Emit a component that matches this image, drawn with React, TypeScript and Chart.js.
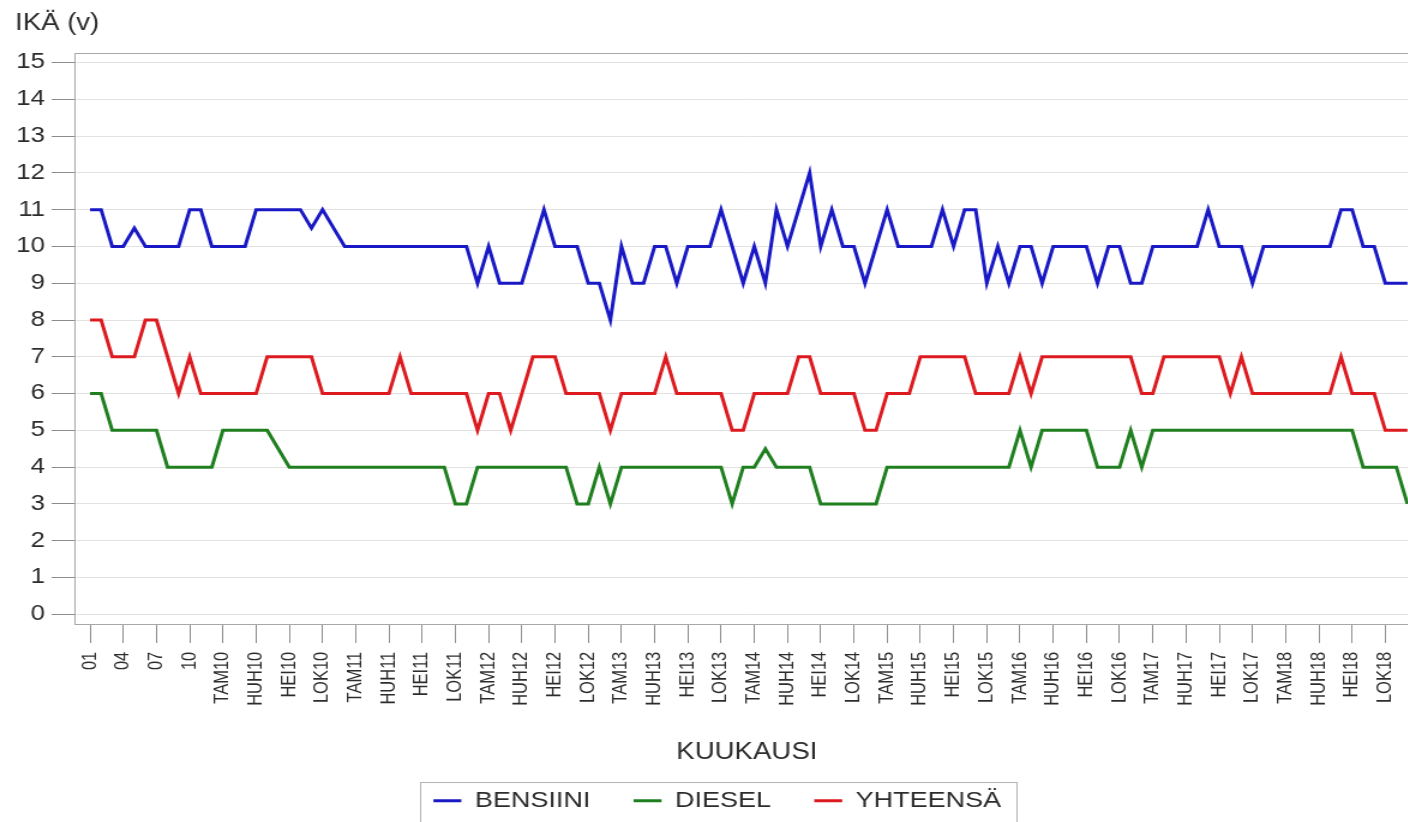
import React, { useEffect, useRef } from "react";
import { Chart, registerables } from "chart.js";

Chart.register(...registerables);

// X tick labels (every third month)
const tickLabels = [
  "01", "04", "07", "10",
  "TAM10", "HUH10", "HEI10", "LOK10",
  "TAM11", "HUH11", "HEI11", "LOK11",
  "TAM12", "HUH12", "HEI12", "LOK12",
  "TAM13", "HUH13", "HEI13", "LOK13",
  "TAM14", "HUH14", "HEI14", "LOK14",
  "TAM15", "HUH15", "HEI15", "LOK15",
  "TAM16", "HUH16", "HEI16", "LOK16",
  "TAM17", "HUH17", "HEI17", "LOK17",
  "TAM18", "HUH18", "HEI18", "LOK18",
];

const yTicks = [0, 1, 2, 3, 4, 5, 6, 7, 8, 9, 10, 11, 12, 13, 14, 15];

const seriesNames = ["BENSIINI", "DIESEL", "YHTEENSÄ"];

// Monthly values (one per month)
const bensiini = [
  11, 11, 10, 10, 10.5, 10, 10, 10, 10, 11,
  11, 10, 10, 10, 10, 11, 11, 11, 11, 11,
  10.5, 11, 10.5, 10, 10, 10, 10, 10, 10, 10,
  10, 10, 10, 10, 10, 9, 10, 9, 9, 9,
  10, 11, 10, 10, 10, 9, 9, 8, 10, 9,
  9, 10, 10, 9, 10, 10, 10, 11, 10, 9,
  10, 9, 11, 10, 11, 12, 10, 11, 10, 10,
  9, 10, 11, 10, 10, 10, 10, 11, 10, 11,
  11, 9, 10, 9, 10, 10, 9, 10, 10, 10,
  10, 9, 10, 10, 9, 9, 10, 10, 10, 10,
  10, 11, 10, 10, 10, 9, 10, 10, 10, 10,
  10, 10, 10, 11, 11, 10, 10, 9, 9, 9,
];

const diesel = [
  6, 6, 5, 5, 5, 5, 5, 4, 4, 4,
  4, 4, 5, 5, 5, 5, 5, 4.5, 4, 4,
  4, 4, 4, 4, 4, 4, 4, 4, 4, 4,
  4, 4, 4, 3, 3, 4, 4, 4, 4, 4,
  4, 4, 4, 4, 3, 3, 4, 3, 4, 4,
  4, 4, 4, 4, 4, 4, 4, 4, 3, 4,
  4, 4.5, 4, 4, 4, 4, 3, 3, 3, 3,
  3, 3, 4, 4, 4, 4, 4, 4, 4, 4,
  4, 4, 4, 4, 5, 4, 5, 5, 5, 5,
  5, 4, 4, 4, 5, 4, 5, 5, 5, 5,
  5, 5, 5, 5, 5, 5, 5, 5, 5, 5,
  5, 5, 5, 5, 5, 4, 4, 4, 4, 3,
];

const yhteensa = [
  8, 8, 7, 7, 7, 8, 8, 7, 6, 7,
  6, 6, 6, 6, 6, 6, 7, 7, 7, 7,
  7, 6, 6, 6, 6, 6, 6, 6, 7, 6,
  6, 6, 6, 6, 6, 5, 6, 6, 5, 6,
  7, 7, 7, 6, 6, 6, 6, 5, 6, 6,
  6, 6, 7, 6, 6, 6, 6, 6, 5, 5,
  6, 6, 6, 6, 7, 7, 6, 6, 6, 6,
  5, 5, 6, 6, 6, 7, 7, 7, 7, 7,
  6, 6, 6, 6, 7, 6, 7, 7, 7, 7,
  7, 7, 7, 7, 7, 6, 6, 7, 7, 7,
  7, 7, 7, 6, 7, 6, 6, 6, 6, 6,
  6, 6, 6, 7, 6, 6, 6, 5, 5, 5,
];

const colors = ["#1818c4", "#1f7f1f", "#dc1a1f"];

const FONT = "'Liberation Sans', Arial, Helvetica, sans-serif";
const TEXT = "#2c2c2c";
const SX = 1.2;
const CW = 1207;
const CH = 822;

export default function App() {
  const canvasRef = useRef<HTMLCanvasElement | null>(null);

  useEffect(() => {
    const el = canvasRef.current;
    if (!el) return;

    const framePlugin = {
      id: "frameAndLegendBox",
      beforeDatasetsDraw(chart: any) {
        const { ctx, chartArea: a } = chart;
        ctx.save();
        ctx.strokeStyle = "#a8a8a8";
        ctx.lineWidth = 1;
        ctx.strokeRect(Math.round(a.left) + 0.5, Math.round(a.top) + 0.5, Math.round(a.right - a.left), Math.round(a.bottom - a.top));
        ctx.restore();
      },
      afterDraw(chart: any) {
        const lg = chart.legend;
        const hb = lg && lg.legendHitBoxes;
        if (!hb || !hb.length) return;
        const { ctx } = chart;
        const first = hb[0];
        const last = hb[hb.length - 1];
        const l = first.left - 11;
        const r = last.left + last.width + 13;
        const t = first.top - 7.5;
        const b = first.top + first.height + 9.5;
        ctx.save();
        ctx.strokeStyle = "#b4b4b4";
        ctx.lineWidth = 1;
        ctx.strokeRect(Math.round(l) + 0.5, Math.round(t) + 0.5, Math.round(r - l), Math.round(b - t));
        ctx.restore();
      },
    };

    const series = [bensiini, diesel, yhteensa];

    const chart = new Chart(el, {
      type: "line",
      data: {
        datasets: series.map((vals, k) => ({
          label: seriesNames[k],
          data: vals.map((y, i) => ({ x: i, y })),
          borderColor: colors[k],
          backgroundColor: colors[k],
          borderWidth: 3,
          pointRadius: 0,
          pointHoverRadius: 0,
          tension: 0,
          fill: false,
        })),
      },
      options: {
        responsive: true,
        maintainAspectRatio: false,
        animation: false,
        events: [],
        layout: { padding: { left: 12.5, right: 24, top: 0, bottom: 0 } },
        plugins: {
          title: {
            display: true,
            text: "IKÄ (v)",
            position: "top",
            align: "start",
            color: TEXT,
            font: { family: FONT, size: 23, weight: "normal" },
            padding: { top: 9.5, bottom: 15.9 },
          },
          legend: {
            display: true,
            position: "bottom",
            labels: {
              color: TEXT,
              font: { family: FONT, size: 22.5 },
              boxWidth: 23.3,
              boxHeight: 3,
              padding: 36,
              generateLabels: (c: any) =>
                (Chart.defaults as any).plugins.legend.labels
                  .generateLabels(c)
                  .map((it: any) => ({ ...it, lineWidth: 0 })),
            },
          },
          tooltip: { enabled: false },
        },
        scales: {
          x: {
            type: "linear",
            min: -1.445,
            max: 120.1,
            afterBuildTicks: (s: any) => {
              s.ticks = tickLabels.map((_, k) => ({ value: k * 3 }));
            },
            afterFit: (s: any) => {
              s.height = 129.5;
            },
            ticks: {
              autoSkip: false,
              minRotation: 90,
              maxRotation: 90,
              padding: 8.7,
              color: TEXT,
              font: { family: FONT, size: 16.5 },
              callback: (v: any) => tickLabels[Math.round(Number(v) / 3)] ?? "",
            },
            grid: {
              drawOnChartArea: false,
              drawTicks: true,
              tickLength: 19,
              tickColor: "#8c8c8c",
              color: "#8c8c8c",
            },
            border: { display: false },
            title: {
              display: true,
              text: "KUUKAUSI",
              color: TEXT,
              font: { family: FONT, size: 23 },
              padding: { top: 0, bottom: -13 },
            },
          },
          y: {
            type: "linear",
            min: -0.265,
            max: 15.26,
            afterBuildTicks: (s: any) => {
              s.ticks = yTicks.map((v) => ({ value: v }));
            },
            afterFit: (s: any) => {
              s.width = 49.2;
            },
            ticks: {
              color: TEXT,
              font: { family: FONT, size: 21.5 },
              padding: 5.5,
              callback: (v: any) => String(v),
            },
            grid: {
              color: "#e2e2e2",
              tickColor: "#8c8c8c",
              tickLength: 18.7,
              drawTicks: true,
            },
            border: { display: false },
          },
        },
      } as any,
      plugins: [framePlugin],
    });

    return () => {
      chart.destroy();
    };
  }, []);

  return (
    <div
      style={{
        position: "fixed",
        left: 0,
        top: 0,
        width: 1408,
        height: CH,
        overflow: "hidden",
        background: "#ffffff",
      }}
    >
      <div
        style={{
          position: "absolute",
          left: 0,
          top: 0,
          width: CW,
          height: CH,
          transform: `scaleX(${SX})`,
          transformOrigin: "0 0",
        }}
      >
        <canvas ref={canvasRef} />
      </div>
    </div>
  );
}
